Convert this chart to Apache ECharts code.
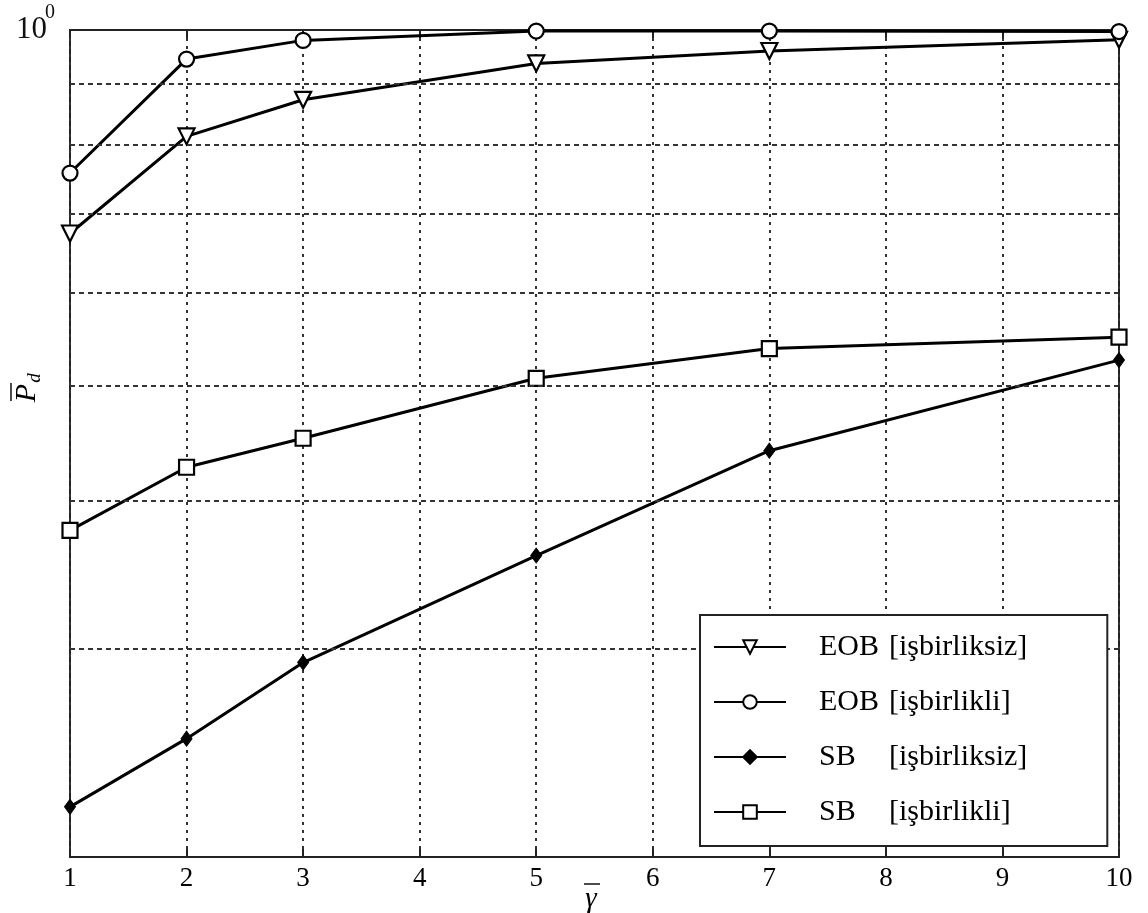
<!DOCTYPE html>
<html>
<head>
<meta charset="utf-8">
<script src="https://cdn.jsdelivr.net/npm/echarts@6/dist/echarts.min.js"></script>
<style>
html,body{margin:0;padding:0;background:#fff;}
#c{width:1148px;height:913px;}
</style>
</head>
<body>
<div id="c"></div>
<script>
// ---- data ----
const gammaValues = [1, 2, 3, 5, 7, 10];
const xTicks = [1, 2, 3, 4, 5, 6, 7, 8, 9, 10];
const eobNonCoop = [0.673, 0.813, 0.873, 0.937, 0.960, 0.981];
const eobCoop    = [0.757, 0.945, 0.980, 0.998, 0.998, 0.997];
const sbNonCoop  = [0.2205, 0.2518, 0.292, 0.3596, 0.441, 0.526];
const sbCoop     = [0.3776, 0.427, 0.4518, 0.5077, 0.538, 0.550];
const yGridValues = [0.3, 0.4, 0.5, 0.6, 0.7, 0.8, 0.9];
const seriesNames = ['EOB [işbirliksiz]', 'EOB [işbirlikli]', 'SB [işbirliksiz]', 'SB [işbirlikli]'];
const yTopLabel = ['10', '0'];
const xAxisName = 'γ';
const yAxisName = ['P', 'd'];

const serifFont = '"Liberation Serif", "Times New Roman", serif';
const pair = (vals) => gammaValues.map((x, i) => [x, vals[i]]);

const chart = echarts.init(document.getElementById('c'), null, {renderer: 'canvas'});

const baseLine = {
  type: 'line',
  symbolSize: 15,
  lineStyle: {color: '#000', width: 3},
  itemStyle: {color: '#fff', borderColor: '#000', borderWidth: 2.2},
  z: 3,
  animation: false
};

const option = {
  animation: false,
  backgroundColor: '#fff',
  grid: {
    left: 70, right: 29, top: 30, bottom: 56,
    show: true, borderColor: '#222', borderWidth: 2, backgroundColor: '#fff'
  },
  xAxis: [{
    type: 'value', min: 1, max: 10, interval: 1, position: 'bottom',
    axisLine: {show: false},
    axisTick: {show: true, inside: true, length: 8, lineStyle: {color: '#222', width: 2}},
    axisLabel: {
      fontFamily: serifFont, fontSize: 27, color: '#000', margin: 8,
      formatter: (v) => xTicks.includes(v) ? String(v) : ''
    },
    splitLine: {show: true, lineStyle: {type: [3, 5], color: '#333', width: 2}}
  }, {
    type: 'value', min: 1, max: 10, interval: 1, position: 'top',
    axisLine: {show: false},
    axisTick: {show: true, inside: true, length: 8, lineStyle: {color: '#222', width: 2}},
    axisLabel: {show: false},
    splitLine: {show: false}
  }],
  yAxis: {
    type: 'log', logBase: 10, min: 0.2, max: 1,
    axisLine: {show: false}, axisTick: {show: false},
    axisLabel: {show: false}, splitLine: {show: false}
  },
  legend: {
    data: seriesNames,
    orient: 'vertical',
    left: 700, top: 615,
    itemWidth: 72, itemHeight: 17, itemGap: 25,
    padding: [17, 80, 19, 13],
    backgroundColor: '#fff',
    borderColor: '#222', borderWidth: 2, borderRadius: 0,
    selectedMode: false,
    z: 10,
    formatter: (name) => {
      const i = name.indexOf(' [');
      return '{a|' + name.slice(0, i) + '}{b|' + name.slice(i + 1) + '}';
    },
    textStyle: {
      fontFamily: serifFont, fontSize: 30, color: '#000', lineHeight: 30,
      padding: [0, 0, 0, 28],
      rich: {
        a: {fontFamily: serifFont, fontSize: 30, color: '#000', width: 70, lineHeight: 30},
        b: {fontFamily: serifFont, fontSize: 30, color: '#000', lineHeight: 30}
      }
    }
  },
  graphic: [
    {type: 'text', left: 16, top: 14, style: {text: yTopLabel[0], font: '31px ' + serifFont, fill: '#111'}},
    {type: 'text', left: 45, top: 3, style: {text: yTopLabel[1], font: '20px ' + serifFont, fill: '#111'}},
    {type: 'text', x: 591, y: 899, style: {text: xAxisName, font: 'italic 29px ' + serifFont, fill: '#000', align: 'center', verticalAlign: 'middle'}},
    {type: 'line', shape: {x1: 584, y1: 884, x2: 600, y2: 884}, style: {stroke: '#111', lineWidth: 1.5}},
    {
      type: 'group', x: 27, y: 393, rotation: Math.PI / 2,
      children: [
        {type: 'text', x: 0, y: 0, style: {text: yAxisName[0], font: 'italic 30px ' + serifFont, fill: '#000', align: 'center', verticalAlign: 'middle'}},
        {type: 'text', x: 15, y: 8, style: {text: yAxisName[1], font: 'italic 19px ' + serifFont, fill: '#000', align: 'center', verticalAlign: 'middle'}},
        {type: 'line', shape: {x1: -8, y1: -16, x2: 10, y2: -16}, style: {stroke: '#111', lineWidth: 1.5}}
      ]
    }
  ],
  series: [
    {
      type: 'line', name: 'grid', data: [], z: 1, silent: true,
      markLine: {
        silent: true, symbol: ['none', 'none'], animation: false,
        label: {show: false},
        lineStyle: {type: [5, 4], color: '#333', width: 2},
        data: yGridValues.map(v => ({yAxis: v}))
      }
    },
    Object.assign({}, baseLine, {name: seriesNames[0], data: pair(eobNonCoop), symbol: 'triangle', symbolRotate: 180, symbolSize: 16}),
    Object.assign({}, baseLine, {name: seriesNames[1], data: pair(eobCoop), symbol: 'circle', symbolSize: 15}),
    Object.assign({}, baseLine, {name: seriesNames[2], data: pair(sbNonCoop), symbol: 'diamond', symbolSize: [11, 15],
      itemStyle: {color: '#000', borderColor: '#000', borderWidth: 1}}),
    Object.assign({}, baseLine, {name: seriesNames[3], data: pair(sbCoop), symbol: 'rect', symbolSize: 15})
  ]
};
chart.setOption(option);
</script>
</body>
</html>
